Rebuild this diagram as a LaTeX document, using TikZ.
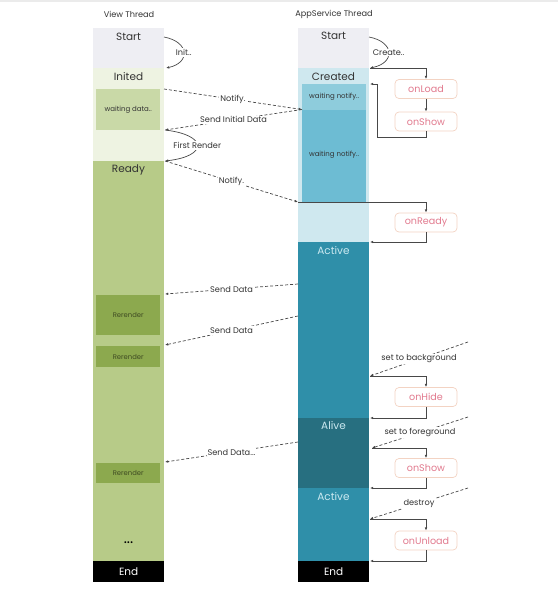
\documentclass[tikz,border=0pt]{standalone}
\usepackage{fontspec}
\setmainfont{Poppins}
\usetikzlibrary{arrows.meta}
\definecolor{startc}{HTML}{EEEEF3}
\definecolor{initedc}{HTML}{EEF3E2}
\definecolor{waitdc}{HTML}{C9D9A7}
\definecolor{readyc}{HTML}{B7CB88}
\definecolor{rerc}{HTML}{8CA94E}
\definecolor{rertext}{HTML}{3F4B22}
\definecolor{createdc}{HTML}{CFE8EF}
\definecolor{aw1c}{HTML}{8ECCDC}
\definecolor{aw2c}{HTML}{6DBCD3}
\definecolor{activec}{HTML}{2F8FA9}
\definecolor{alivec}{HTML}{276F80}
\definecolor{activetext}{HTML}{CBE9F1}
\definecolor{evborder}{HTML}{F3D3C3}
\definecolor{evtext}{HTML}{E27B8F}
\definecolor{linec}{HTML}{484848}
\definecolor{txt}{HTML}{333333}
\begin{document}
\begin{tikzpicture}[x=1pt,y=-1pt,
  blk/.style={draw=none,inner sep=0,anchor=north west,minimum width=71},
  inner/.style={draw=none,inner sep=0,anchor=north west,minimum width=64},
  ttl/.style={font=\fontsize{8.2}{9}\selectfont,text=txt},
  hdr/.style={font=\fontsize{10.5}{12}\selectfont,text=txt,inner sep=0},
  small/.style={font=\fontsize{7}{8}\selectfont,text=txt,inner sep=0},
  rr/.style={font=\fontsize{6.8}{8}\selectfont,text=rertext,inner sep=0},
  ev/.style={draw=evborder,line width=0.7,rounded corners=4,minimum width=62,minimum height=19,inner sep=0,text=evtext,font=\fontsize{9.6}{11}\selectfont,fill=white},
  conn/.style={draw=linec,line width=0.7,-{Latex[length=3.2,width=2.6]}},
  plain/.style={draw=linec,line width=0.7},
  dsh/.style={draw=linec,line width=0.7,dash pattern=on 3 off 2,-{Latex[length=3.2,width=2.6]}},
  lbl/.style={font=\fontsize{8.2}{9}\selectfont,text=txt,fill=white,inner sep=1}]
\useasboundingbox (0,0) rectangle (558,603);
\draw[draw=black!8,line width=2] (0,1) -- (558,1);
% titles
\node[ttl] (tview) at (129,14) {View Thread};
\node[ttl] (tapp) at (334,14) {AppService Thread};
% View thread column
\node[blk,fill=startc,minimum height=40] (vstart) at (93,28) {};
\node[blk,fill=initedc,minimum height=93] (vinited) at (93,68) {};
\node[inner,fill=waitdc,minimum height=41] (vwait) at (96,89) {};
\node[blk,fill=readyc,minimum height=400] (vready) at (93,161) {};
\node[inner,fill=rerc,minimum height=40] (rr1) at (96,295) {};
\node[inner,fill=rerc,minimum height=21] (rr2) at (96,346) {};
\node[inner,fill=rerc,minimum height=20] (rr3) at (96,463) {};
\node[blk,fill=black,minimum height=21] (vend) at (93,561) {};
\node[hdr] (lvstart) at (128.5,37) {Start};
\node[hdr] (lvinited) at (128.5,77) {Inited};
\node[small] (lvwait) at (vwait.center) {waiting data..};
\node[hdr] (lvready) at (128.5,169.5) {Ready};
\node[rr] (lrr1) at (rr1.center) {Rerender};
\node[rr] (lrr2) at (rr2.center) {Rerender};
\node[rr] (lrr3) at (rr3.center) {Rerender};
\node[font=\fontsize{15}{16}\selectfont,text=black,inner sep=0] (ldots) at (128.5,543) {...};
\node[hdr,text=white] (lvend) at (vend.center) {End};
% AppService column
\node[blk,fill=startc,minimum height=40] (astart) at (298,28) {};
\node[blk,fill=createdc,minimum height=174] (acreated) at (298,68) {};
\node[inner,fill=aw1c,minimum height=26] (aw1) at (302,84) {};
\node[inner,fill=aw2c,minimum height=92] (aw2) at (302,110) {};
\node[blk,fill=activec,minimum height=176] (aactive) at (298,242) {};
\node[blk,fill=alivec,minimum height=70] (aalive) at (298,418) {};
\node[blk,fill=activec,minimum height=73] (aactive2) at (298,488) {};
\node[blk,fill=black,minimum height=21] (aend) at (298,561) {};
\node[hdr] (lastart) at (333.5,36) {Start};
\node[hdr] (lacreated) at (333.5,77) {Created};
\node[small] (law1) at (aw1.center) {waiting notify..};
\node[small] (law2) at (334,155) {waiting notify..};
\node[hdr,text=activetext] (laactive) at (333.5,251) {Active};
\node[hdr,text=activetext] (laalive) at (333.5,426) {Alive};
\node[hdr,text=activetext] (laactive2) at (333.5,497) {Active};
\node[hdr,text=white] (laend) at (aend.center) {End};
% event boxes
\node[ev] (onload) at (426,89) {onLoad};
\node[ev] (onshow1) at (426,121.5) {onShow};
\node[ev] (onready) at (426,222.5) {onReady};
\node[ev] (onhide) at (426,397) {onHide};
\node[ev] (onshow2) at (426,468) {onShow};
\node[ev] (onunload) at (426,540.5) {onUnload};
% coordinates
\coordinate (vs1) at (164,37);
\coordinate (vi1) at (166,68);
\coordinate (vn1) at (164,89);
\coordinate (an1) at (302,109.5);
\coordinate (vd1) at (165,130);
\coordinate (vr1) at (165,161);
\coordinate (an2) at (298,202);
\coordinate (as1) at (369,37);
\coordinate (ac1) at (370,68);
\coordinate (ac2) at (370,84);
\coordinate (ac3) at (377,84);
\coordinate (ac4) at (377,137);
\coordinate (aa1) at (298,284);
\coordinate (vd2) at (165,294);
\coordinate (aa2) at (298,316);
\coordinate (vd3) at (165,345);
\coordinate (aa3) at (298,442);
\coordinate (vd4) at (165,462);
\coordinate (bgs) at (468,342);
\coordinate (bge) at (370,376);
\coordinate (fgs) at (468,417);
\coordinate (fge) at (372,448);
\coordinate (ds) at (468,488);
\coordinate (de) at (370,519);
\coordinate (ae1) at (370,242);
\coordinate (ae2) at (370,418);
\coordinate (ae3) at (370,488);
\coordinate (ae4) at (370,561);
% view side connectors
\draw[conn] (vs1) .. controls (190,42) and (190,63) .. node[lbl] {Init..} (vi1);
\draw[dsh] (vn1) -- node[lbl] {Notify.} (an1);
\draw[dsh] (an1) -- node[lbl] {Send Initial Data} (vd1);
\draw[conn] (vd1) .. controls (208,135) and (208,156) .. node[lbl] {First Render} (vr1);
\draw[dsh] (vr1) -- node[lbl] {Notify.} (an2);
\draw[dsh] (aa1) -- node[lbl] {Send Data} (vd2);
\draw[dsh] (aa2) -- node[lbl] {Send Data} (vd3);
\draw[dsh] (aa3) -- node[lbl] {Send Data...} (vd4);
% app side connectors
\draw[conn] (as1) .. controls (395,42) and (395,63) .. node[lbl] {Create..} (ac1);
\draw[conn] (ac1) -| (onload.north);
\draw[conn] (onload.south) -- (onshow1.north);
\draw[plain] (onshow1.south) |- (ac4) -- (ac3);
\draw[conn] (ac3) -- (ac2);
\draw[conn] (an2) -| (onready.north);
\draw[conn] (onready.south) |- (ae1);
\draw[dsh] (bgs) -- node[lbl] {set to background} (bge);
\draw[conn] (bge) -| (onhide.north);
\draw[conn] (onhide.south) |- (ae2);
\draw[dsh] (fgs) -- node[lbl] {set to foreground} (fge);
\draw[conn] (fge) -| (onshow2.north);
\draw[conn] (onshow2.south) |- (ae3);
\draw[dsh] (ds) -- node[lbl] {destroy} (de);
\draw[conn] (de) -| (onunload.north);
\draw[conn] (onunload.south) |- (ae4);
\end{tikzpicture}
\end{document}
